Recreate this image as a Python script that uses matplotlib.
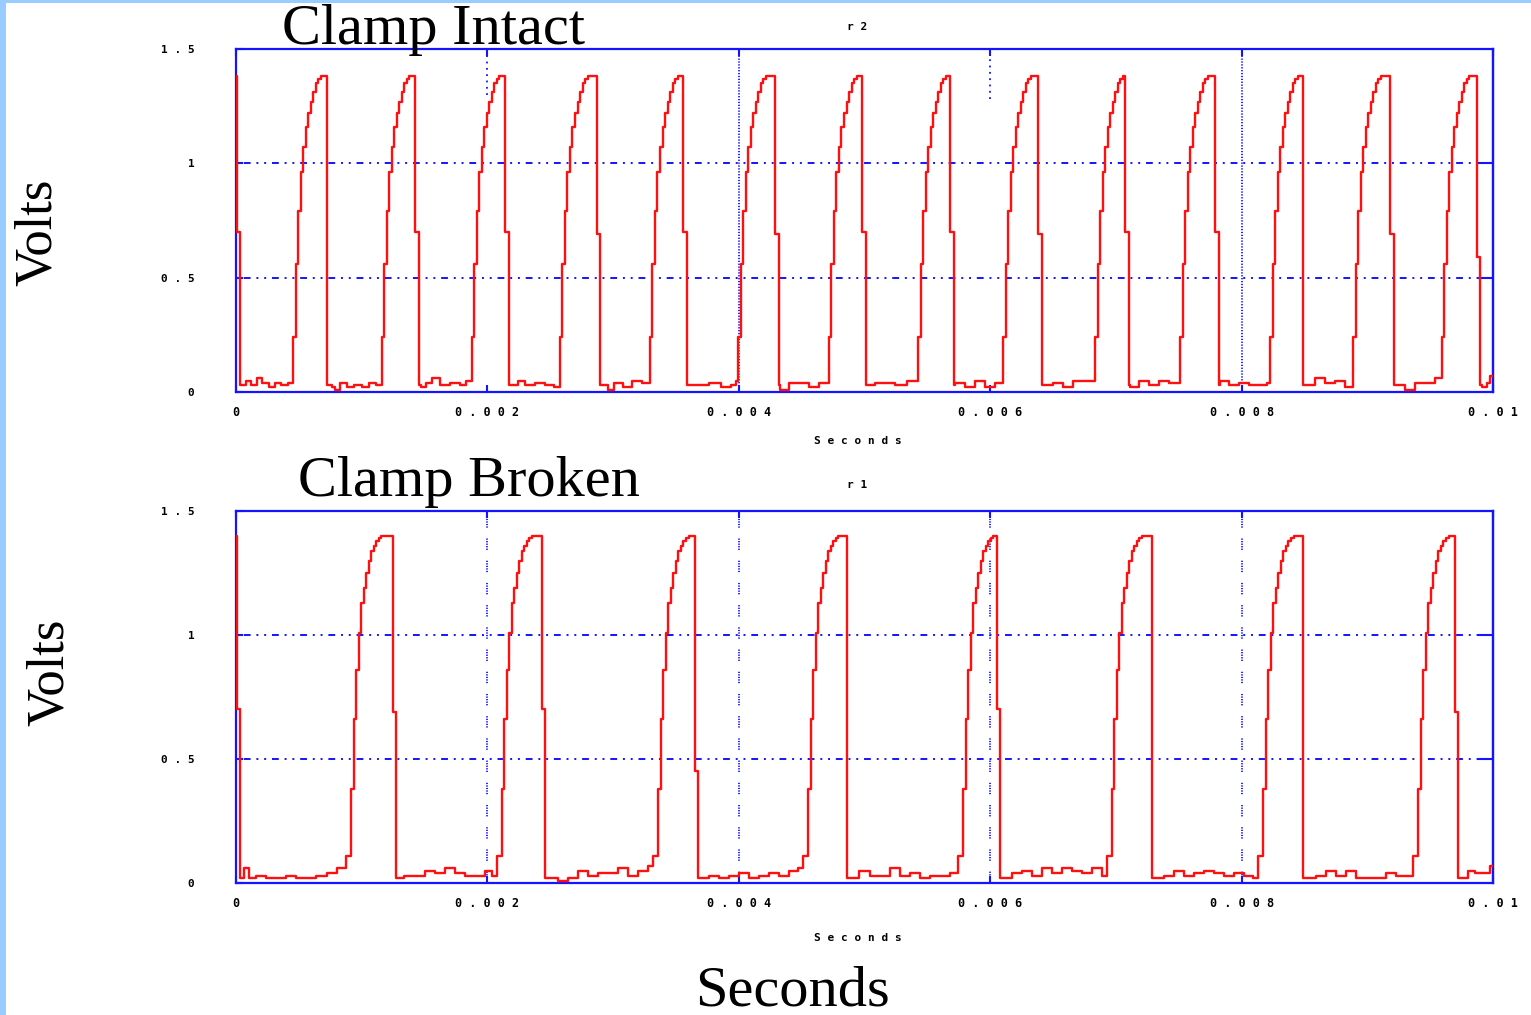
import numpy as np
import matplotlib
matplotlib.use("Agg")
import matplotlib.pyplot as plt
from matplotlib.patches import Rectangle

# ---------------- data (times in microseconds, values in volts) ----------------
# Clamp Intact (r2)
top_start_t_us = [0, 8, 30]
top_start_v = [1.38, 0.70, 0.03]
top_rise_offsets_us = [0, 20, 40, 60, 80, 100, 120, 140, 160, 180, 200, 220]
top_rise_v = [0.24, 0.56, 0.79, 0.96, 1.07, 1.16, 1.22, 1.27, 1.31, 1.35, 1.37, 1.38]
top_onsets_us = [456, 1159, 1875, 2577, 3293, 3996, 4717, 5428, 6104, 6834, 7510, 8226, 8889, 9592]
top_falls_us = [722, 1424, 2140, 2869, 3558, 4288, 4978, 5680, 6383, 7072, 7788, 8491, 9180, 9870]
top_fall_mid_v = [0.03, 0.70, 0.70, 0.69, 0.70, 0.69, 0.70, 0.70, 0.69, 0.70, 0.70, 0.03, 0.69, 0.59]
top_noise_t_us = [80, 120, 170, 210, 260, 310, 360, 410,
                  760, 790, 830, 880, 940, 1000, 1060, 1110,
                  1470, 1510, 1560, 1620, 1700, 1780, 1830,
                  2180, 2240, 2300, 2380, 2460, 2530,
                  2910, 2960, 3010, 3080, 3150, 3230,
                  3600, 3680, 3760, 3860, 3940, 3975,
                  4330, 4400, 4480, 4560, 4640,
                  5020, 5080, 5160, 5240, 5340,
                  5720, 5800, 5880, 5960, 6040,
                  6420, 6500, 6580, 6660, 6740,
                  7110, 7180, 7260, 7340, 7420,
                  7830, 7900, 7980, 8060, 8140, 8200,
                  8510, 8580, 8660, 8740, 8820,
                  9220, 9300, 9380, 9460, 9540,
                  9910, 9950, 9980]
top_noise_v = [0.05, 0.03, 0.06, 0.04, 0.02, 0.04, 0.03, 0.04,
               0.02, 0.01, 0.04, 0.02, 0.03, 0.02, 0.04, 0.03,
               0.02, 0.04, 0.06, 0.03, 0.04, 0.03, 0.05,
               0.03, 0.05, 0.03, 0.04, 0.03, 0.02,
               0.03, 0.01, 0.04, 0.02, 0.05, 0.04,
               0.03, 0.03, 0.04, 0.02, 0.03, 0.05,
               0.01, 0.04, 0.04, 0.02, 0.04,
               0.03, 0.04, 0.04, 0.03, 0.05,
               0.04, 0.02, 0.05, 0.02, 0.04,
               0.03, 0.04, 0.02, 0.05, 0.05,
               0.02, 0.05, 0.03, 0.05, 0.04,
               0.05, 0.03, 0.04, 0.03, 0.03, 0.04,
               0.03, 0.06, 0.04, 0.05, 0.02,
               0.03, 0.01, 0.04, 0.04, 0.06,
               0.02, 0.04, 0.07]

# Clamp Broken (r1)
bot_start_t_us = [0, 8, 35]
bot_start_v = [1.40, 0.70, 0.02]
bot_rise_offsets_us = [0, 40, 60, 80, 100, 120, 140, 160, 180, 200, 220, 240, 260, 280]
bot_rise_v = [0.11, 0.38, 0.66, 0.86, 1.01, 1.13, 1.19, 1.25, 1.30, 1.34, 1.36, 1.38, 1.39, 1.40]
bot_onsets_us = [875, 2074, 3320, 4513, 5746, 6926, 8133, 9366]
bot_falls_us = [1247, 2432, 3651, 4858, 6051, 7285, 8491, 9697]
bot_fall_mid_v = [0.69, 0.70, 0.45, 0.02, 0.70, 0.02, 0.02, 0.69]
bot_noise_t_us = [60, 100, 160, 240, 320, 400, 480, 560, 640, 720, 800,
                  1290, 1340, 1420, 1500, 1580, 1660, 1740, 1820, 1900, 1980, 2040,
                  2480, 2560, 2640, 2720, 2800, 2880, 2960, 3040, 3120, 3200, 3280,
                  3690, 3760, 3840, 3920, 4000, 4080, 4160, 4240, 4320, 4400, 4470,
                  4880, 4960, 5040, 5120, 5200, 5280, 5360, 5440, 5520, 5600, 5680,
                  6090, 6170, 6250, 6330, 6410, 6490, 6570, 6650, 6730, 6810, 6890,
                  7310, 7380, 7460, 7540, 7620, 7700, 7780, 7860, 7940, 8020, 8090,
                  8520, 8590, 8670, 8750, 8830, 8910, 8990, 9070, 9150, 9230, 9310,
                  9740, 9800, 9860, 9920, 9980]
bot_noise_v = [0.06, 0.02, 0.03, 0.02, 0.02, 0.03, 0.02, 0.02, 0.03, 0.04, 0.06,
               0.02, 0.03, 0.03, 0.05, 0.04, 0.06, 0.04, 0.03, 0.03, 0.05, 0.03,
               0.02, 0.01, 0.02, 0.05, 0.03, 0.04, 0.04, 0.06, 0.03, 0.05, 0.07,
               0.02, 0.03, 0.02, 0.03, 0.04, 0.02, 0.03, 0.04, 0.03, 0.05, 0.06,
               0.01, 0.05, 0.03, 0.03, 0.06, 0.03, 0.04, 0.02, 0.03, 0.03, 0.04,
               0.02, 0.04, 0.05, 0.03, 0.06, 0.04, 0.06, 0.05, 0.04, 0.06, 0.03,
               0.02, 0.03, 0.05, 0.03, 0.04, 0.05, 0.04, 0.03, 0.04, 0.03, 0.02,
               0.02, 0.03, 0.05, 0.03, 0.05, 0.02, 0.02, 0.02, 0.04, 0.03, 0.03,
               0.02, 0.05, 0.04, 0.04, 0.07]

x_ticks = [0, 0.002, 0.004, 0.006, 0.008, 0.01]
x_tick_labels = ["0", "0 . 0 0 2", "0 . 0 0 4", "0 . 0 0 6", "0 . 0 0 8", "0 . 0 1"]
y_ticks = [0, 0.5, 1, 1.5]
y_tick_labels = ["0", "0 . 5", "1", "1 . 5"]


def build_trace(start_t, start_v, onsets, falls, mids, rise_off, rise_v,
                noise_t, noise_v, hold_us, base_v):
    pts = list(zip(start_t, start_v))
    busy = []
    for on, fa, mid in zip(onsets, falls, mids):
        for o, rv in zip(rise_off, rise_v):
            if on + o < fa:
                pts.append((on + o, rv))
        pts.append((fa, mid))
        pts.append((fa + hold_us, base_v))
        busy.append((on, fa + hold_us))
    for nt, nv in zip(noise_t, noise_v):
        if not any(a <= nt <= b for a, b in busy):
            pts.append((nt, nv))
    pts.sort(key=lambda p: p[0])
    pts.append((10000, pts[-1][1]))
    t = np.array([p[0] for p in pts]) * 1e-6
    v = np.array([p[1] for p in pts])
    return t, v


top_t, top_v = build_trace(top_start_t_us, top_start_v, top_onsets_us, top_falls_us,
                           top_fall_mid_v, top_rise_offsets_us, top_rise_v,
                           top_noise_t_us, top_noise_v, 30, 0.03)
bot_t, bot_v = build_trace(bot_start_t_us, bot_start_v, bot_onsets_us, bot_falls_us,
                           bot_fall_mid_v, bot_rise_offsets_us, bot_rise_v,
                           bot_noise_t_us, bot_noise_v, 25, 0.02)

# ---------------- figure ----------------
W, H = 1531, 1015
fig = plt.figure(figsize=(W / 100, H / 100), dpi=100)
fig.patch.set_facecolor("white")
fig.patches.append(Rectangle((0, 0), 6 / W, 1, transform=fig.transFigure,
                             facecolor="#99ccff", edgecolor="none", zorder=0))
fig.patches.append(Rectangle((0, 1 - 3 / H), 1, 3 / H, transform=fig.transFigure,
                             facecolor="#99ccff", edgecolor="none", zorder=0))

BLUE = "#1414ff"
RED = "#ff1010"
xtick_font = dict(family="DejaVu Sans Mono", weight="bold", size=8.5)
ytick_font = dict(family="DejaVu Sans Mono", weight="bold", size=8)


def fpos(x0, y0, x1, y1):
    return [x0 / W, 1 - y1 / H, (x1 - x0) / W, (y1 - y0) / H]


def style_axes(ax, full_vgrid, partial_vgrid):
    ax.set_xlim(0, 0.01)
    ax.set_ylim(0, 1.5)
    for s in ax.spines.values():
        s.set_color(BLUE)
        s.set_linewidth(1.6)
    ax.set_xticks(x_ticks)
    ax.set_xticklabels(x_tick_labels, fontdict=xtick_font)
    ax.set_yticks(y_ticks)
    ax.set_yticklabels(y_tick_labels, fontdict=ytick_font)
    ax.tick_params(axis="x", direction="in", top=True, bottom=True, length=5,
                   width=1.5, color=BLUE, pad=10)
    ax.tick_params(axis="y", direction="in", left=True, right=False, length=5,
                   width=1.5, color=BLUE, pad=30)
    sec = ax.secondary_yaxis("right")
    sec.set_yticks([0.5, 1.0])
    sec.set_yticklabels([])
    sec.tick_params(direction="in", length=11, width=1.5, color=BLUE)
    sec.spines["right"].set_color(BLUE)
    sec.spines["right"].set_linewidth(1.6)
    for yv in (0.5, 1.0):
        ax.axhline(yv, color=BLUE, lw=1.4, linestyle=(0, (1, 3, 3.5, 3, 1, 3)), zorder=1)
    for xv in full_vgrid:
        ax.axvline(xv, color=BLUE, lw=1.3, linestyle=(0, (0.7, 0.9)), zorder=1)
    for xv, ylo in partial_vgrid:
        ax.plot([xv, xv], [ylo, 1.5], color=BLUE, lw=1.3,
                linestyle=(0, (1, 2.5)), zorder=1)


# Top panel
ax1 = fig.add_axes(fpos(236, 49, 1493, 392))
style_axes(ax1, [0.004, 0.008], [(0.002, 1.30), (0.006, 1.28)])
ax1.plot(top_t, top_v, drawstyle="steps-post", color=RED, lw=1.7, zorder=3)

# Bottom panel
ax2 = fig.add_axes(fpos(236, 511, 1493, 883))
bot_dash = (0, (0.7, 0.7, 0.7, 0.7, 0.7, 0.7, 0.7, 0.7, 0.7, 6))
style_axes(ax2, [], [])
for xv in [0.002, 0.004, 0.006, 0.008]:
    ax2.axvline(xv, color=BLUE, lw=1.3, linestyle=bot_dash, zorder=1)
ax2.plot(bot_t, bot_v, drawstyle="steps-post", color=RED, lw=1.7, zorder=3)

# small labels
small = dict(family="DejaVu Sans Mono", weight="bold", size=8, ha="center", va="center")
fig.text(858 / W, 1 - 441 / H, "S e c o n d s", **small)
fig.text(858 / W, 1 - 938 / H, "S e c o n d s", **small)
fig.text(857 / W, 1 - 27 / H, "r 2", **small)
fig.text(857 / W, 1 - 485 / H, "r 1", **small)

# big labels
serif = dict(family="Liberation Serif", color="black")
fig.text(282 / W, 1 - 44 / H, "Clamp Intact", fontsize=42, ha="left", va="baseline", **serif)
fig.text(298 / W, 1 - 496 / H, "Clamp Broken", fontsize=42, ha="left", va="baseline", **serif)
fig.text(38 / W, 1 - 232 / H, "Volts", fontsize=38, rotation=90, ha="center", va="center", **serif)
fig.text(50 / W, 1 - 672 / H, "Volts", fontsize=38, rotation=90, ha="center", va="center", **serif)
fig.text(793 / W, 1 - 1006 / H, "Seconds", fontsize=42, ha="center", va="baseline", **serif)

fig.savefig("out.png", dpi=100)
